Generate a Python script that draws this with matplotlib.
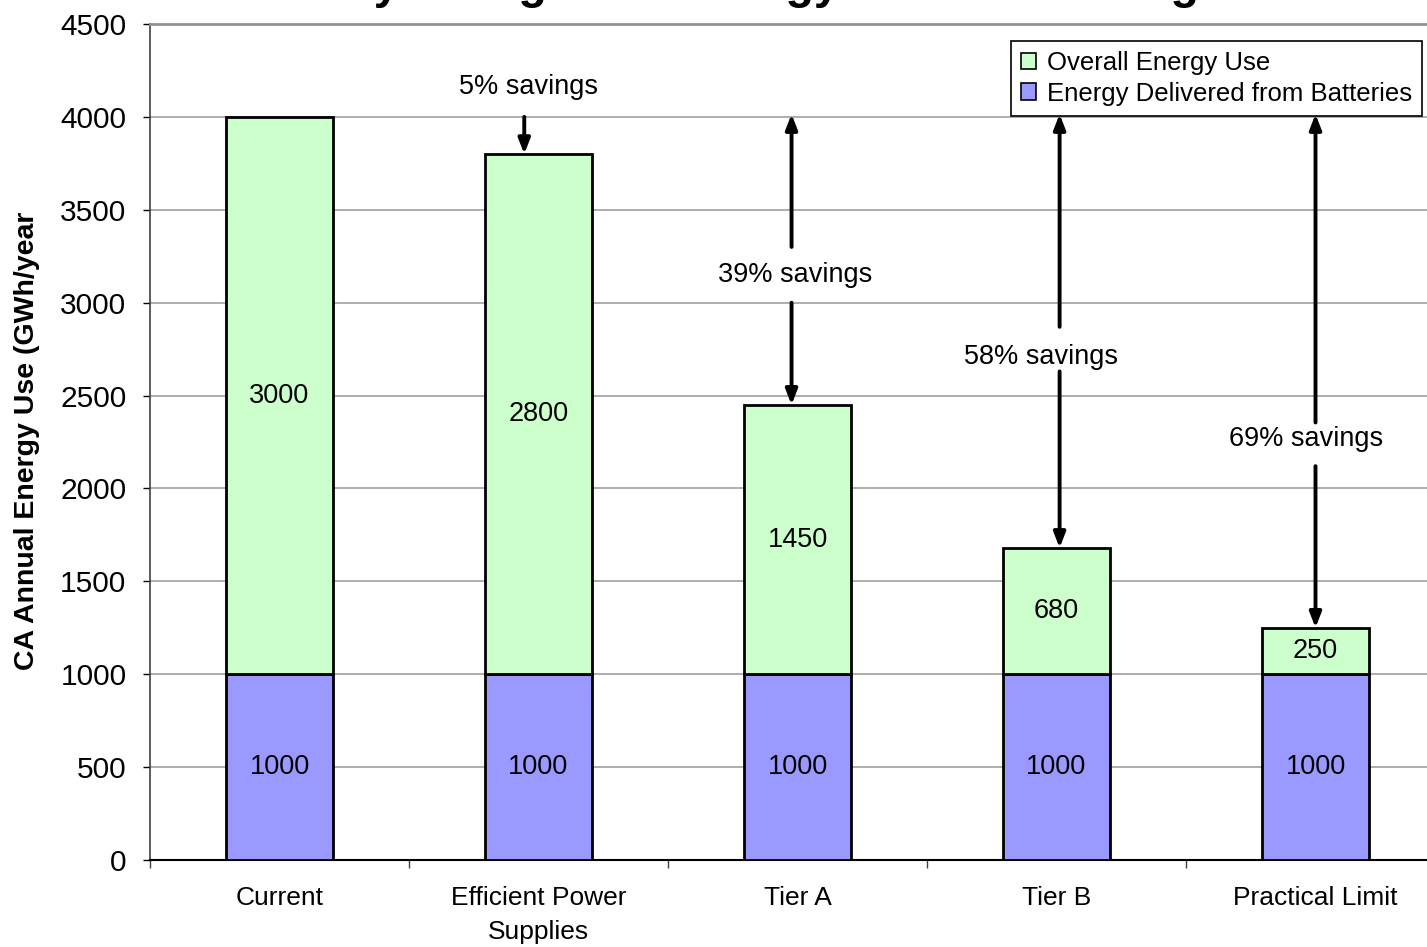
import matplotlib.pyplot as plt
from matplotlib.patches import Patch
import numpy as np

plt.rcParams['font.family'] = ['Liberation Sans', 'DejaVu Sans']

# Energy use by scenario (GWh/year)
categorie = ["Current", "Efficient Power\nSupplies", "Tier A", "Tier B", "Practical Limit"]
batterie = [1000, 1000, 1000, 1000, 1000]
overall = [3000, 2800, 1450, 680, 250]
risparmi = ["", "5% savings", "39% savings", "58% savings", "69% savings"]

# posizioni delle scritte sui risparmi (valore y), spazi sopra/sotto la scritta
testo_y = [None, 4160, 3150, 2710, 2265]
gap_su = [0, 0, 150, 160, 90]
gap_giu = [0, 0, 150, 80, 145]
testo_dx = [0, -0.04, -0.01, -0.06, -0.035]
freccia_dx = [0, -0.055, -0.023, 0.012, 0.0]

verde = "#CCFFCC"
blu = "#9999FF"

fig = plt.figure(figsize=(14.27, 9.47), dpi=100)
ax = fig.add_axes([150 / 1427, 87 / 947, 1295 / 1427, 836 / 947])

x = np.arange(len(categorie))
larghezza = 0.41
ax.bar(x, batterie, width=larghezza, color=blu, edgecolor="black", linewidth=2, zorder=3)
ax.bar(x, overall, width=larghezza, bottom=batterie, color=verde, edgecolor="black",
       linewidth=2, zorder=3)

# etichette dentro le barre
for i in range(len(x)):
    ax.text(x[i], batterie[i] / 2, str(batterie[i]), ha="center", va="center", fontsize=19.5, zorder=4)
    ax.text(x[i], batterie[i] + overall[i] / 2, str(overall[i]), ha="center", va="center",
            fontsize=19.5, zorder=4)

totali = [b + o for b, o in zip(batterie, overall)]
riferimento = totali[0]
stile = dict(arrowstyle="-|>,head_length=0.9,head_width=0.35", color="black", lw=2.8,
             shrinkA=0, shrinkB=0)

for i in range(1, len(x)):
    xa = x[i] + freccia_dx[i]
    if i == 1:
        ax.annotate("", xy=(xa, totali[i]), xytext=(xa, riferimento), arrowprops=stile, zorder=5)
    else:
        ax.annotate("", xy=(xa, riferimento + 15), xytext=(xa, testo_y[i] + gap_su[i]),
                    arrowprops=stile, zorder=5)
        ax.annotate("", xy=(xa, totali[i]), xytext=(xa, testo_y[i] - gap_giu[i]),
                    arrowprops=stile, zorder=5)
    ax.text(x[i] + testo_dx[i], testo_y[i], risparmi[i], ha="center", va="center", fontsize=19.5)

ax.set_xlim(-0.5, len(x) - 0.5)
ax.set_ylim(0, 4500)
ax.set_yticks(np.arange(0, 4501, 500))
ax.yaxis.grid(True, color="#a0a0a0", linewidth=1.2, zorder=0)
ax.set_axisbelow(True)
ax.tick_params(axis="y", labelsize=21.5, length=5, width=1, pad=12, colors="black")

ax.set_xticks(x)
ax.set_xticklabels(categorie, fontsize=19, linespacing=1.5, va="top")
ax.tick_params(axis="x", which="major", length=0, pad=19)
ax.set_xticks(np.arange(-0.5, len(x)), minor=True)
ax.tick_params(axis="x", which="minor", length=6, width=1, color="#404040")

ax.spines["top"].set_color("#909090")
ax.spines["top"].set_linewidth(2)
ax.spines["right"].set_visible(False)
ax.spines["left"].set_color("#404040")
ax.spines["left"].set_linewidth(1.2)
ax.spines["bottom"].set_color("black")
ax.spines["bottom"].set_linewidth(1.5)

fig.text(27 / 1427, 1 - 441 / 947, "CA Annual Energy Use (GWh/year", rotation=90,
         ha="center", va="center", fontsize=20.5, fontweight="bold")

# titolo tagliato dal bordo superiore
fig.text(0.513, 1.0 + 2 / 947, "Battery Charger CA Energy Use and Savings", ha="center",
         va="baseline", fontsize=33.5, fontweight="bold")

maniglie = [Patch(facecolor=verde, edgecolor="black", linewidth=1.2),
            Patch(facecolor=blu, edgecolor="black", linewidth=1.2)]
leg = fig.legend(maniglie, ["Overall Energy Use", "Energy Delivered from Batteries"],
                 loc="upper right", bbox_to_anchor=(1422 / 1427, 1 - 41 / 947), fontsize=18.5,
                 fancybox=False, handlelength=0.6, handleheight=0.6, handletextpad=0.4,
                 borderpad=0.4, labelspacing=0.25, borderaxespad=0, framealpha=1)
leg.get_frame().set_edgecolor("black")
leg.get_frame().set_linewidth(1.2)

fig.savefig("out.png", dpi=100)
